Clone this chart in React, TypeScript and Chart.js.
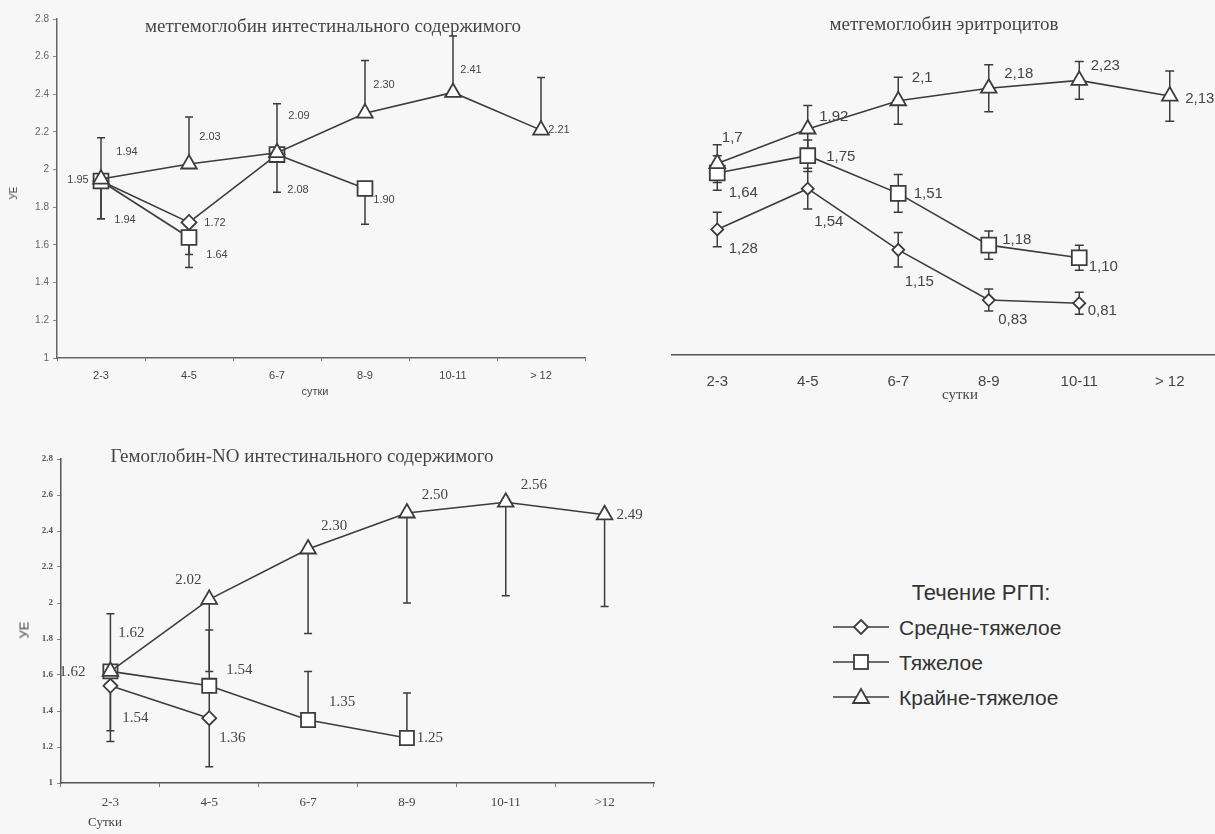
import React, { useEffect, useRef } from "react";
import { Chart, registerables } from "chart.js";

Chart.register(...registerables);

// ---------- categories ----------
const DAYS_A = ["2-3", "4-5", "6-7", "8-9", "10-11", "> 12"];
const DAYS_B = ["2-3", "4-5", "6-7", "8-9", "10-11", ">12"];
const SERIES_NAMES = ["Средне-тяжелое", "Тяжелое", "Крайне-тяжелое"];
const LEGEND_TITLE = "Течение РГП:";

// ---------- chart 1: метгемоглобин интестинального содержимого ----------
const c1Moderate = [1.94, 1.72, 2.08, null, null, null];
const c1ModerateUp = [0, 0, 0, 0, 0, 0];
const c1ModerateDown = [0.2, 0.17, 0, 0, 0, 0];
const c1ModerateLabels = ["1.94", "1.72", null, null, null, null];

const c1Severe = [1.94, 1.64, 2.08, 1.9, null, null];
const c1SevereUp = [0, 0, 0, 0, 0, 0];
const c1SevereDown = [0.2, 0.16, 0.2, 0.19, 0, 0];
const c1SevereLabels = ["1.94", "1.64", "2.08", "1.90", null, null];

const c1Extreme = [1.95, 2.03, 2.09, 2.3, 2.41, 2.21];
const c1ExtremeUp = [0.22, 0.25, 0.26, 0.28, 0.3, 0.28];
const c1ExtremeDown = [0, 0, 0, 0, 0, 0];
const c1ExtremeLabels = ["1.95", "2.03", "2.09", "2.30", "2.41", "2.21"];

// ---------- chart 2: метгемоглобин эритроцитов ----------
const c2Moderate = [1.28, 1.54, 1.15, 0.83, 0.81, null];
const c2ModerateErr = [0.11, 0.13, 0.11, 0.07, 0.07, 0];
const c2ModerateLabels = ["1,28", "1,54", "1,15", "0,83", "0,81", null];

const c2Severe = [1.64, 1.75, 1.51, 1.18, 1.1, null];
const c2SevereErr = [0.11, 0.1, 0.12, 0.09, 0.08, 0];
const c2SevereLabels = ["1,64", "1,75", "1,51", "1,18", "1,10", null];

const c2Extreme = [1.7, 1.92, 2.1, 2.18, 2.23, 2.13];
const c2ExtremeErr = [0.12, 0.15, 0.15, 0.15, 0.12, 0.16];
const c2ExtremeLabels = ["1,7", "1,92", "2,1", "2,18", "2,23", "2,13"];

// ---------- chart 3: Гемоглобин-NO интестинального содержимого ----------
const c3Moderate = [1.54, 1.36, null, null, null, null];
const c3ModerateUp = [0, 0.18, 0, 0, 0, 0];
const c3ModerateDown = [0.31, 0.27, 0, 0, 0, 0];
const c3ModerateLabels = ["1.54", "1.36", null, null, null, null];

const c3Severe = [1.62, 1.54, 1.35, 1.25, null, null];
const c3SevereUp = [0, 0.31, 0.27, 0.25, 0, 0];
const c3SevereDown = [0.33, 0, 0, 0, 0, 0];
const c3SevereLabels = ["1.62", "1.54", "1.35", "1.25", null, null];

const c3Extreme = [1.62, 2.02, 2.3, 2.5, 2.56, 2.49];
const c3ExtremeUp = [0.32, 0, 0, 0, 0, 0];
const c3ExtremeDown = [0, 0.4, 0.47, 0.5, 0.52, 0.51];
const c3ExtremeLabels = ["1.62", "2.02", "2.30", "2.50", "2.56", "2.49"];

// ---------- label placement (pixel offsets from the point, layout only) ----------
const OFF1 = {
  moderate: [[24, 39], [26, 1], [0, 0], [0, 0], [0, 0], [0, 0]],
  severe: [[26, -29], [28, 18], [21, 35], [19, 11], [0, 0], [0, 0]],
  extreme: [[-23, 1], [21, -27], [22, -37], [19, -28], [18, -22], [18, 0]],
};
const OFF2 = {
  moderate: [[26, 19], [21, 33], [21, 32], [24, 20], [23, 8], [0, 0]],
  severe: [[26, 20], [33, 1], [30, 0], [28, -5], [24, 9], [0, 0]],
  extreme: [[15, -26], [26, -12], [24, -23], [30, -14], [26, -15], [30, 3]],
};
const OFF3 = {
  moderate: [[25, 32], [23, 20], [0, 0], [0, 0], [0, 0], [0, 0]],
  severe: [[-38, 1], [30, -16], [34, -18], [23, 0], [0, 0], [0, 0]],
  extreme: [[21, -38], [-21, -19], [26, -23], [28, -18], [28, -17], [25, 0]],
};

const LINE = "#3c3c3c";
const TEXT = "#454545";
const SANS = "'Liberation Sans', Arial, sans-serif";
const SERIF = "'Liberation Serif', 'Times New Roman', serif";

const fmtTick = (v: any) => String(Math.round(Number(v) * 10) / 10);

// ---------- plugins ----------
const errorBars = {
  id: "errorBars",
  beforeDatasetsDraw(chart: any) {
    const ctx = chart.ctx;
    const ys = chart.scales.y;
    chart.data.datasets.forEach((ds: any, i: number) => {
      const meta = chart.getDatasetMeta(i);
      const up = ds.errUp || [];
      const down = ds.errDown || [];
      const cap = ds.capWidth || 8;
      meta.data.forEach((pt: any, j: number) => {
        const v = ds.data[j];
        if (v == null) return;
        ctx.save();
        ctx.strokeStyle = ds.errColor || LINE;
        ctx.lineWidth = ds.errWidth || 1.5;
        const ends = [up[j] ? v + up[j] : null, down[j] ? v - down[j] : null];
        ends.forEach((end) => {
          if (end == null) return;
          const yy = ys.getPixelForValue(end);
          ctx.beginPath();
          ctx.moveTo(pt.x, pt.y);
          ctx.lineTo(pt.x, yy);
          ctx.moveTo(pt.x - cap / 2, yy);
          ctx.lineTo(pt.x + cap / 2, yy);
          ctx.stroke();
        });
        ctx.restore();
      });
    });
  },
};

const valueLabels = {
  id: "valueLabels",
  afterDatasetsDraw(chart: any, _args: any, opts: any) {
    const ctx = chart.ctx;
    chart.data.datasets.forEach((ds: any, i: number) => {
      const meta = chart.getDatasetMeta(i);
      const labels = ds.valueLabels || [];
      const offs = ds.labelOffsets || [];
      meta.data.forEach((pt: any, j: number) => {
        const t = labels[j];
        if (!t || ds.data[j] == null) return;
        const o = offs[j] || [0, 0];
        ctx.save();
        ctx.font = opts.font;
        ctx.fillStyle = opts.color || TEXT;
        ctx.textAlign = "center";
        ctx.textBaseline = "middle";
        ctx.fillText(t, pt.x + o[0], pt.y + o[1]);
        ctx.restore();
      });
    });
  },
};

function mk(label: string, data: any[], style: string, radius: number, extra: any) {
  return {
    label,
    data,
    borderColor: LINE,
    borderWidth: 1.6,
    pointStyle: style,
    pointRadius: radius,
    pointHoverRadius: radius,
    pointBackgroundColor: "#ffffff",
    pointBorderColor: LINE,
    pointBorderWidth: 1.8,
    fill: false,
    tension: 0,
    ...extra,
  };
}

// ---------- configs ----------
function config1() {
  return {
    type: "line",
    data: {
      labels: DAYS_A,
      datasets: [
        mk(SERIES_NAMES[2], c1Extreme, "triangle", 9, {
          errUp: c1ExtremeUp, errDown: c1ExtremeDown, valueLabels: c1ExtremeLabels, labelOffsets: OFF1.extreme,
        }),
        mk(SERIES_NAMES[1], c1Severe, "rect", 10.5, {
          errUp: c1SevereUp, errDown: c1SevereDown, valueLabels: c1SevereLabels, labelOffsets: OFF1.severe,
          segment: { borderColor: (c: any) => (c.p0DataIndex === 1 ? "rgba(0,0,0,0)" : LINE) },
        }),
        mk(SERIES_NAMES[0], c1Moderate, "rectRot", 7.5, {
          errUp: c1ModerateUp, errDown: c1ModerateDown, valueLabels: c1ModerateLabels, labelOffsets: OFF1.moderate,
        }),
      ],
    },
    options: {
      animation: false,
      responsive: false,
      events: [],
      layout: { autoPadding: false, padding: { left: 0, right: 35, top: 19, bottom: 0 } },
      plugins: {
        legend: { display: false },
        tooltip: { enabled: false },
        valueLabels: { font: `11px ${SANS}`, color: TEXT },
      },
      scales: {
        x: {
          offset: true,
          grid: { display: true, drawOnChartArea: false, drawTicks: true, tickLength: 3, offset: true, color: "#777" },
          border: { display: true, color: "#666", width: 1.5 },
          ticks: { font: { family: SANS, size: 11 }, color: TEXT, padding: 8, maxRotation: 0 },
          afterFit: (s: any) => { s.height = 52; },
        },
        y: {
          min: 1,
          max: 2.8,
          ticks: { stepSize: 0.2, font: { family: SANS, size: 10 }, color: "#666", padding: 4, callback: fmtTick },
          grid: { display: true, drawOnChartArea: false, drawTicks: true, tickLength: 4, color: "#888" },
          border: { display: true, color: "#666", width: 1.5 },
          afterFit: (s: any) => { s.width = 57; },
        },
      },
    },
    plugins: [errorBars, valueLabels],
  };
}

function config2() {
  return {
    type: "line",
    data: {
      labels: DAYS_A,
      datasets: [
        mk(SERIES_NAMES[2], c2Extreme, "triangle", 9, {
          errUp: c2ExtremeErr, errDown: c2ExtremeErr, capWidth: 9, valueLabels: c2ExtremeLabels, labelOffsets: OFF2.extreme,
        }),
        mk(SERIES_NAMES[1], c2Severe, "rect", 10.5, {
          errUp: c2SevereErr, errDown: c2SevereErr, capWidth: 9, valueLabels: c2SevereLabels, labelOffsets: OFF2.severe,
        }),
        mk(SERIES_NAMES[0], c2Moderate, "rectRot", 6, {
          errUp: c2ModerateErr, errDown: c2ModerateErr, capWidth: 9, valueLabels: c2ModerateLabels, labelOffsets: OFF2.moderate,
        }),
      ],
    },
    options: {
      animation: false,
      responsive: false,
      events: [],
      layout: { autoPadding: false, padding: { left: 12, right: 0, top: 38, bottom: 0 } },
      plugins: {
        legend: { display: false },
        tooltip: { enabled: false },
        valueLabels: { font: `15px ${SANS}`, color: TEXT },
      },
      scales: {
        x: {
          offset: true,
          grid: { display: false, drawTicks: false },
          border: { display: true, color: "#555", width: 1.5 },
          ticks: { font: { family: SANS, size: 15 }, color: TEXT, padding: 18, maxRotation: 0 },
          afterFit: (s: any) => { s.height = 55; },
        },
        y: {
          display: false,
          min: 0.48,
          max: 2.5,
        },
      },
    },
    plugins: [errorBars, valueLabels],
  };
}

function config3() {
  return {
    type: "line",
    data: {
      labels: DAYS_B,
      datasets: [
        mk(SERIES_NAMES[2], c3Extreme, "triangle", 9, {
          errUp: c3ExtremeUp, errDown: c3ExtremeDown, valueLabels: c3ExtremeLabels, labelOffsets: OFF3.extreme,
        }),
        mk(SERIES_NAMES[1], c3Severe, "rect", 10, {
          errUp: c3SevereUp, errDown: c3SevereDown, valueLabels: c3SevereLabels, labelOffsets: OFF3.severe,
        }),
        mk(SERIES_NAMES[0], c3Moderate, "rectRot", 7, {
          errUp: c3ModerateUp, errDown: c3ModerateDown, valueLabels: c3ModerateLabels, labelOffsets: OFF3.moderate,
        }),
      ],
    },
    options: {
      animation: false,
      responsive: false,
      events: [],
      layout: { autoPadding: false, padding: { left: 0, right: 46, top: 19, bottom: 0 } },
      plugins: {
        legend: { display: false },
        tooltip: { enabled: false },
        valueLabels: { font: `15px ${SERIF}`, color: TEXT },
      },
      scales: {
        x: {
          offset: true,
          grid: { display: true, drawOnChartArea: false, drawTicks: true, tickLength: 4, offset: true, color: "#777" },
          border: { display: true, color: "#555", width: 1.5 },
          ticks: { font: { family: SERIF, size: 13 }, color: TEXT, padding: 8, maxRotation: 0 },
          afterFit: (s: any) => { s.height = 51; },
        },
        y: {
          min: 1,
          max: 2.8,
          ticks: { stepSize: 0.2, font: { family: SERIF, size: 9, weight: "bold" }, color: "#555", padding: 4, callback: fmtTick },
          grid: { display: true, drawOnChartArea: false, drawTicks: true, tickLength: 4, color: "#888" },
          border: { display: true, color: "#555", width: 1.5 },
          afterFit: (s: any) => { s.width = 61; },
        },
      },
    },
    plugins: [errorBars, valueLabels],
  };
}

// ---------- components ----------
function ChartCanvas({ left, top, width, height, make }: any) {
  const ref = useRef<HTMLCanvasElement | null>(null);
  useEffect(() => {
    if (!ref.current) return;
    const ch = new Chart(ref.current, make() as any);
    return () => ch.destroy();
  }, []);
  return (
    <canvas
      ref={ref}
      width={width}
      height={height}
      style={{ position: "absolute", left, top, width, height }}
    />
  );
}

function Txt({ x, y, children, font, size, color, rotate, weight }: any) {
  return (
    <div
      style={{
        position: "absolute",
        left: x,
        top: y,
        transform: `translate(-50%, -50%)${rotate ? ` rotate(${rotate}deg)` : ""}`,
        fontFamily: font,
        fontSize: size,
        fontWeight: weight || "normal",
        color: color || TEXT,
        whiteSpace: "nowrap",
        lineHeight: 1,
      }}
    >
      {children}
    </div>
  );
}

function Marker({ kind }: { kind: number }) {
  return (
    <svg width={56} height={22} style={{ display: "block" }}>
      <line x1={0} y1={11} x2={56} y2={11} stroke={LINE} strokeWidth={1.6} />
      {kind === 0 && <polygon points="28,4 35,11 28,18 21,11" fill="#fff" stroke={LINE} strokeWidth={1.8} />}
      {kind === 1 && <rect x={21} y={4} width={14} height={14} fill="#fff" stroke={LINE} strokeWidth={1.8} />}
      {kind === 2 && <polygon points="28,3 36,17 20,17" fill="#fff" stroke={LINE} strokeWidth={1.8} />}
    </svg>
  );
}

export default function App() {
  const legendY = [627, 662, 697];
  return (
    <div
      style={{
        position: "fixed",
        left: 0,
        top: 0,
        width: 1215,
        height: 834,
        background: "#f7f7f7",
        overflow: "hidden",
      }}
    >
      <ChartCanvas left={0} top={0} width={620} height={410} make={config1} />
      <ChartCanvas left={660} top={0} width={555} height={410} make={config2} />
      <ChartCanvas left={0} top={440} width={700} height={394} make={config3} />

      <Txt x={333} y={25} font={SERIF} size={19}>метгемоглобин интестинального содержимого</Txt>
      <Txt x={315} y={391} font={SANS} size={11}>сутки</Txt>
      <Txt x={14} y={193} font={SANS} size={10} rotate={-90}>УЕ</Txt>

      <Txt x={944} y={23} font={SERIF} size={19}>метгемоглобин эритроцитов</Txt>
      <Txt x={960} y={394} font={SERIF} size={15}>сутки</Txt>

      <Txt x={302} y={455} font={SERIF} size={19}>Гемоглобин-NO интестинального содержимого</Txt>
      <Txt x={105} y={821} font={SERIF} size={13}>Сутки</Txt>
      <Txt x={24} y={630} font={SANS} size={13} rotate={-90}>УЕ</Txt>

      <Txt x={981} y={593} font={SANS} size={22} color="#333">{LEGEND_TITLE}</Txt>
      {SERIES_NAMES.map((name, i) => (
        <div
          key={name}
          style={{
            position: "absolute",
            left: 833,
            top: legendY[i] - 11,
            height: 22,
            display: "flex",
            alignItems: "center",
            gap: 10,
          }}
        >
          <Marker kind={i} />
          <span style={{ fontFamily: SANS, fontSize: 21, color: "#333", lineHeight: 1, whiteSpace: "nowrap" }}>{name}</span>
        </div>
      ))}
    </div>
  );
}
